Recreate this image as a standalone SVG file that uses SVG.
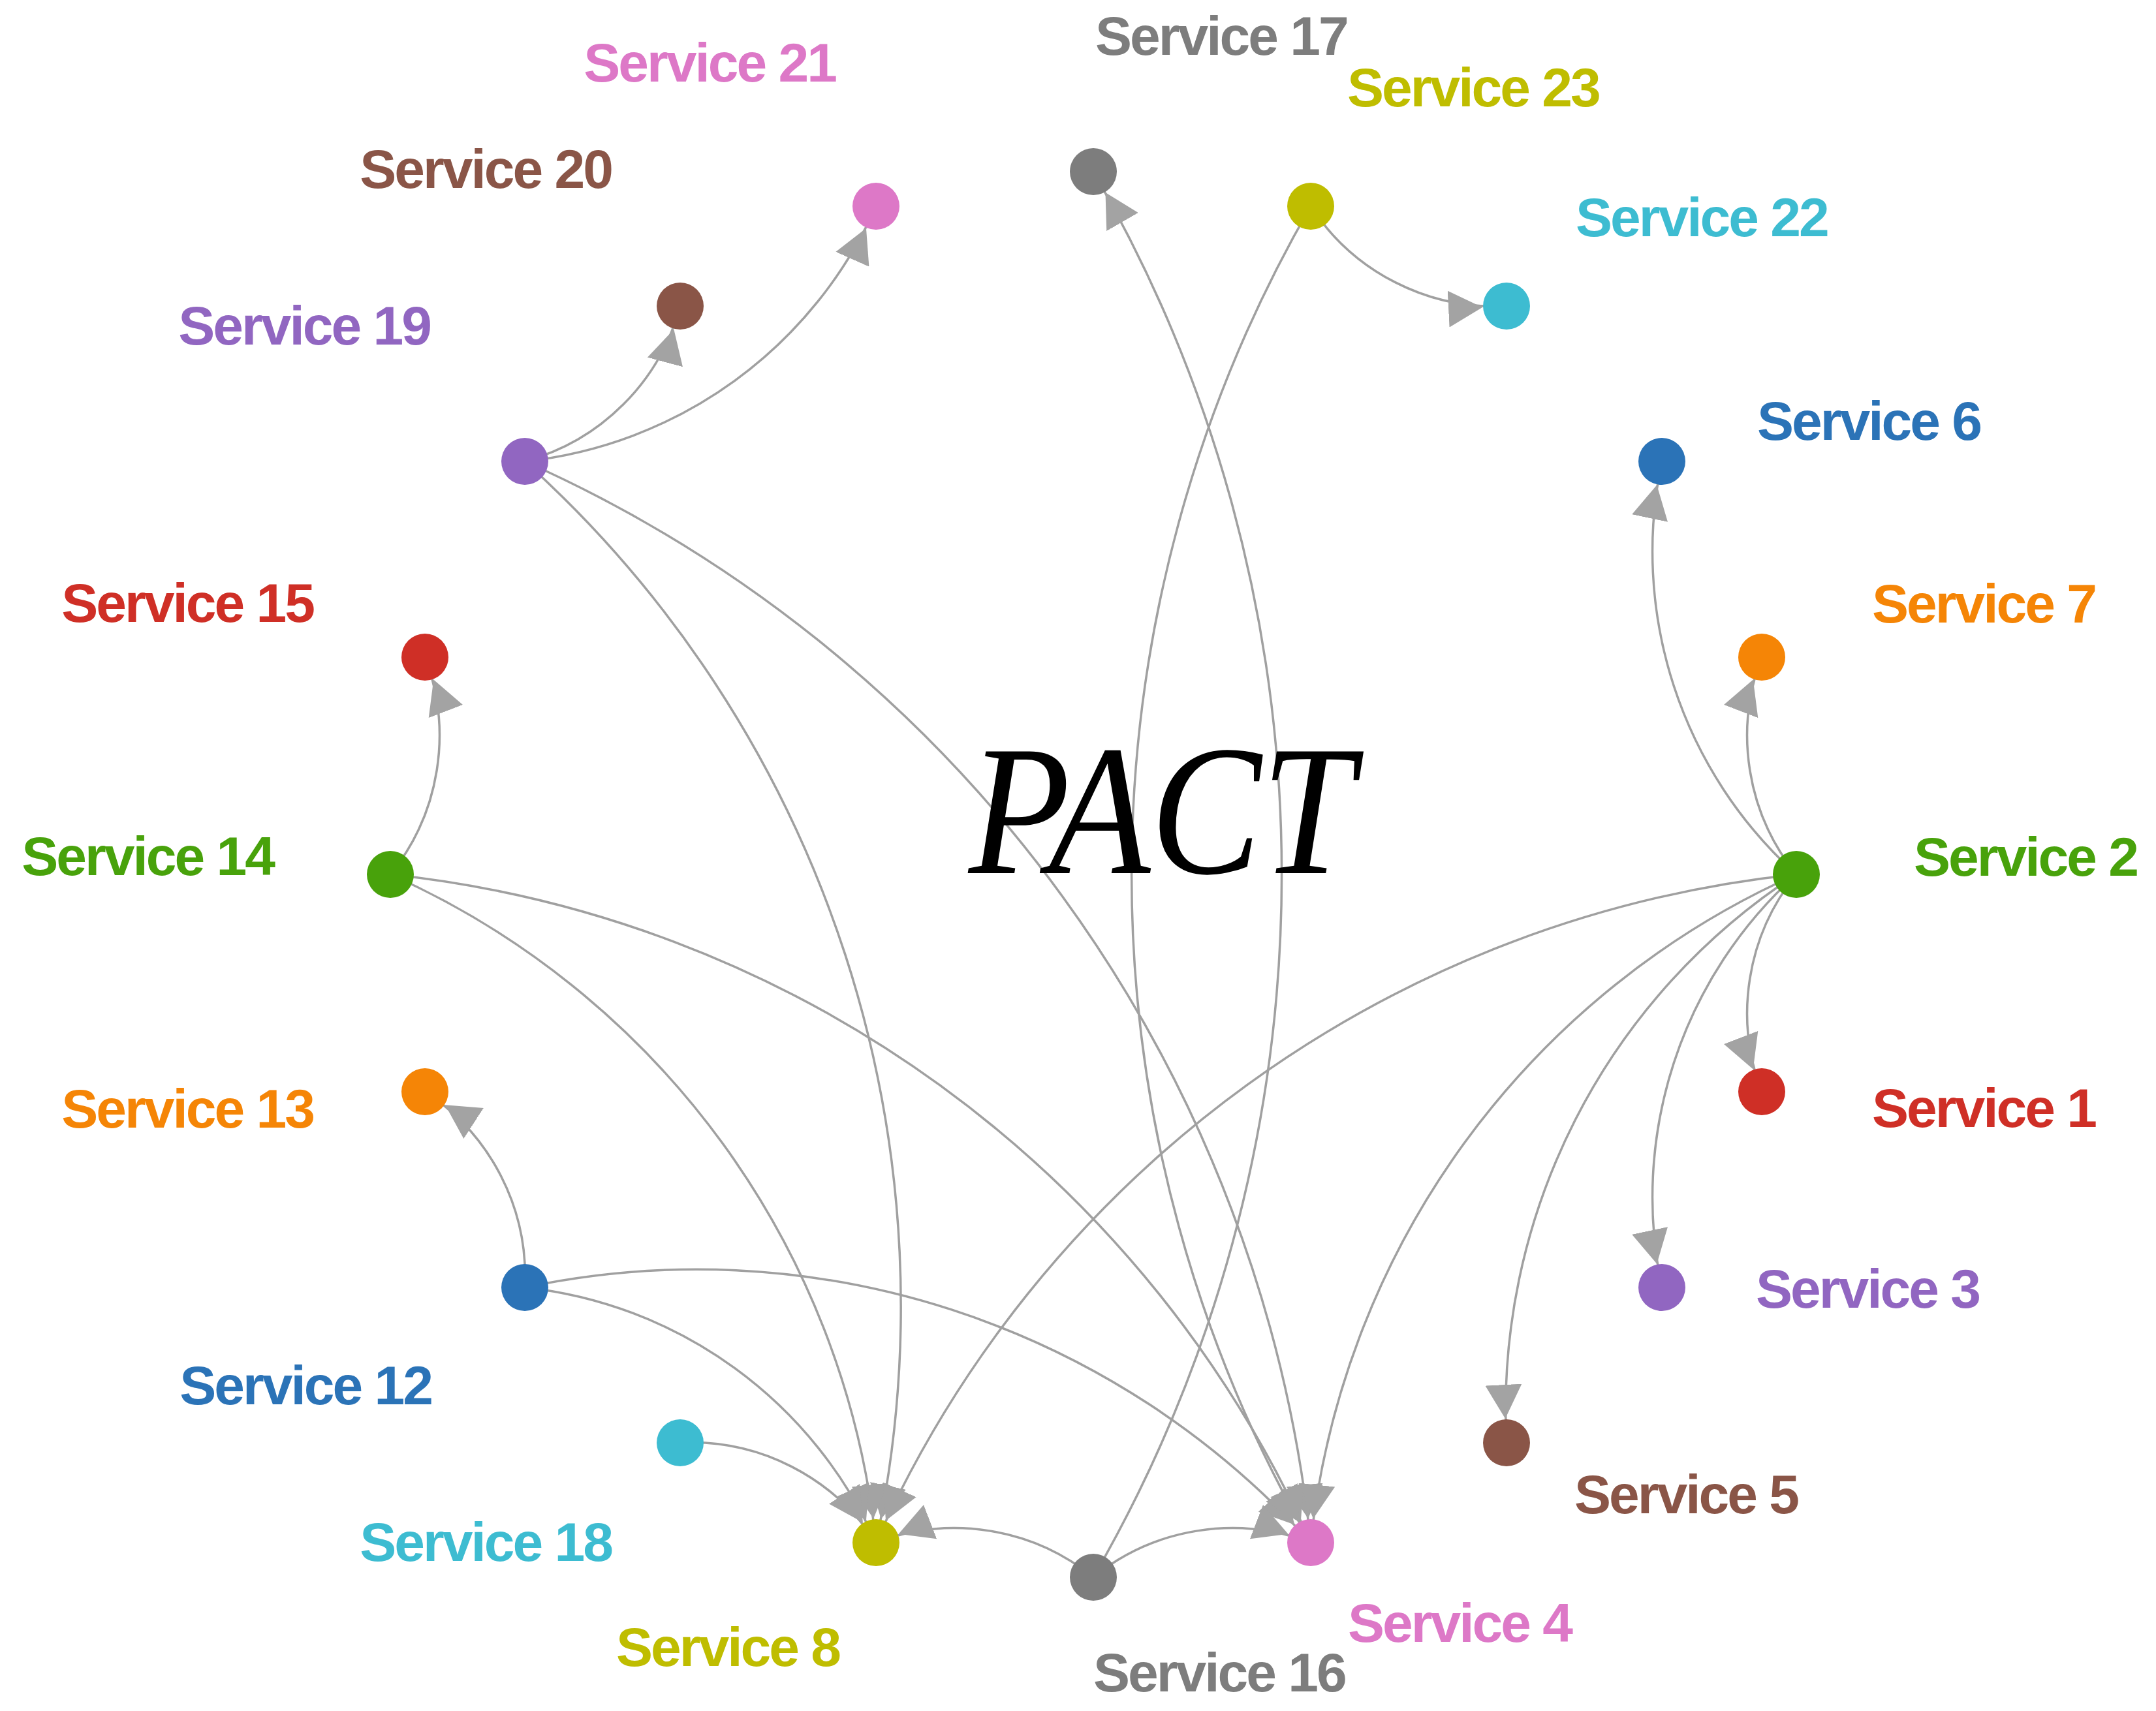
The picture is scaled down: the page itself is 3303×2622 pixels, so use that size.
<svg xmlns="http://www.w3.org/2000/svg" width="3303" height="2622" viewBox="0 0 3303 2622">
<style>
.edge{fill:none;stroke:#a0a0a0;stroke-width:3.5;marker-end:url(#arr)}
.lbl{font-family:"Liberation Sans",Arial,sans-serif;font-weight:bold;font-size:84px;letter-spacing:-3px}
.r{text-anchor:start}
.l{text-anchor:end}
.title{font-family:"Liberation Serif","Times New Roman",serif;font-style:italic;font-size:285px;fill:#000}
</style>
<defs>
<marker id="arr" viewBox="0 0 52 56" refX="89" refY="28" markerWidth="52" markerHeight="56" markerUnits="userSpaceOnUse" orient="auto">
<path d="M0,0L52,28L0,56Z" fill="#a3a3a3"/>
</marker>
</defs>
<rect width="3303" height="2622" fill="#fff"/>
<g id="connectors">
<path class="edge" d="M804,707 A337,337 0 0,0 1042,469"/>
<path class="edge" d="M804,707 A665,665 0 0,0 1342,316"/>
<path class="edge" d="M804,707 A1742,1742 0 0,1 1342,2364"/>
<path class="edge" d="M804,707 A2048,2048 0 0,1 2008,2364"/>
<path class="edge" d="M598,1340 A337,337 0 0,0 651,1007"/>
<path class="edge" d="M598,1340 A1266,1266 0 0,1 1342,2364"/>
<path class="edge" d="M598,1340 A1743,1743 0 0,1 2008,2364"/>
<path class="edge" d="M804,1973 A337,337 0 0,0 651,1673"/>
<path class="edge" d="M804,1973 A665,665 0 0,1 1342,2364"/>
<path class="edge" d="M804,1973 A1266,1266 0 0,1 2008,2364"/>
<path class="edge" d="M1042,2211 A337,337 0 0,1 1342,2364"/>
<path class="edge" d="M1675,2417 A337,337 0 0,0 1342,2364"/>
<path class="edge" d="M1675,2417 A337,337 0 0,1 2008,2364"/>
<path class="edge" d="M1675,2417 A2154,2154 0 0,0 1675,263"/>
<path class="edge" d="M2008,316 A337,337 0 0,0 2308,469"/>
<path class="edge" d="M2008,316 A2048,2048 0 0,0 2008,2364"/>
<path class="edge" d="M2752,1340 A666,666 0 0,1 2546,707"/>
<path class="edge" d="M2752,1340 A337,337 0 0,1 2699,1007"/>
<path class="edge" d="M2752,1340 A337,337 0 0,0 2699,1673"/>
<path class="edge" d="M2752,1340 A666,666 0 0,0 2546,1973"/>
<path class="edge" d="M2752,1340 A978,978 0 0,0 2308,2211"/>
<path class="edge" d="M2752,1340 A1266,1266 0 0,0 2008,2364"/>
<path class="edge" d="M2752,1340 A1743,1743 0 0,0 1342,2364"/>
</g>
<text class="title" x="1484" y="1338" textLength="590" lengthAdjust="spacingAndGlyphs">PACT</text>
<g id="service-17"><circle cx="1675" cy="263" r="36" fill="#7d7d7d"/><text class="lbl r" x="1678" y="84" fill="#7d7d7d">Service 17</text></g>
<g id="service-23"><circle cx="2008" cy="316" r="36" fill="#bfbd00"/><text class="lbl r" x="2064" y="163" fill="#bfbd00">Service 23</text></g>
<g id="service-22"><circle cx="2308" cy="469" r="36" fill="#3dbcd1"/><text class="lbl r" x="2414" y="362" fill="#3dbcd1">Service 22</text></g>
<g id="service-6"><circle cx="2546" cy="707" r="36" fill="#2b73b7"/><text class="lbl r" x="2692" y="674" fill="#2b73b7">Service 6</text></g>
<g id="service-7"><circle cx="2699" cy="1007" r="36" fill="#f58506"/><text class="lbl r" x="2868" y="954" fill="#f58506">Service 7</text></g>
<g id="service-2"><circle cx="2752" cy="1340" r="36" fill="#48a20b"/><text class="lbl r" x="2932" y="1342" fill="#48a20b">Service 2</text></g>
<g id="service-1"><circle cx="2699" cy="1673" r="36" fill="#cf2f26"/><text class="lbl r" x="2868" y="1727" fill="#cf2f26">Service 1</text></g>
<g id="service-3"><circle cx="2546" cy="1973" r="36" fill="#9166c1"/><text class="lbl r" x="2690" y="2004" fill="#9166c1">Service 3</text></g>
<g id="service-5"><circle cx="2308" cy="2211" r="36" fill="#8a5547"/><text class="lbl r" x="2412" y="2319" fill="#8a5547">Service 5</text></g>
<g id="service-4"><circle cx="2008" cy="2364" r="36" fill="#dd78c7"/><text class="lbl r" x="2065" y="2516" fill="#dd78c7">Service 4</text></g>
<g id="service-16"><circle cx="1675" cy="2417" r="36" fill="#7d7d7d"/><text class="lbl r" x="1675" y="2592" fill="#7d7d7d">Service 16</text></g>
<g id="service-8"><circle cx="1342" cy="2364" r="36" fill="#bfbd00"/><text class="lbl l" x="1286" y="2553" fill="#bfbd00">Service 8</text></g>
<g id="service-18"><circle cx="1042" cy="2211" r="36" fill="#3dbcd1"/><text class="lbl l" x="937" y="2392" fill="#3dbcd1">Service 18</text></g>
<g id="service-12"><circle cx="804" cy="1973" r="36" fill="#2b73b7"/><text class="lbl l" x="661" y="2152" fill="#2b73b7">Service 12</text></g>
<g id="service-13"><circle cx="651" cy="1673" r="36" fill="#f58506"/><text class="lbl l" x="480" y="1728" fill="#f58506">Service 13</text></g>
<g id="service-14"><circle cx="598" cy="1340" r="36" fill="#48a20b"/><text class="lbl l" x="419" y="1341" fill="#48a20b">Service 14</text></g>
<g id="service-15"><circle cx="651" cy="1007" r="36" fill="#cf2f26"/><text class="lbl l" x="480" y="953" fill="#cf2f26">Service 15</text></g>
<g id="service-19"><circle cx="804" cy="707" r="36" fill="#9166c1"/><text class="lbl l" x="659" y="528" fill="#9166c1">Service 19</text></g>
<g id="service-20"><circle cx="1042" cy="469" r="36" fill="#8a5547"/><text class="lbl l" x="937" y="288" fill="#8a5547">Service 20</text></g>
<g id="service-21"><circle cx="1342" cy="316" r="36" fill="#dd78c7"/><text class="lbl l" x="1280" y="125" fill="#dd78c7">Service 21</text></g>
</svg>
